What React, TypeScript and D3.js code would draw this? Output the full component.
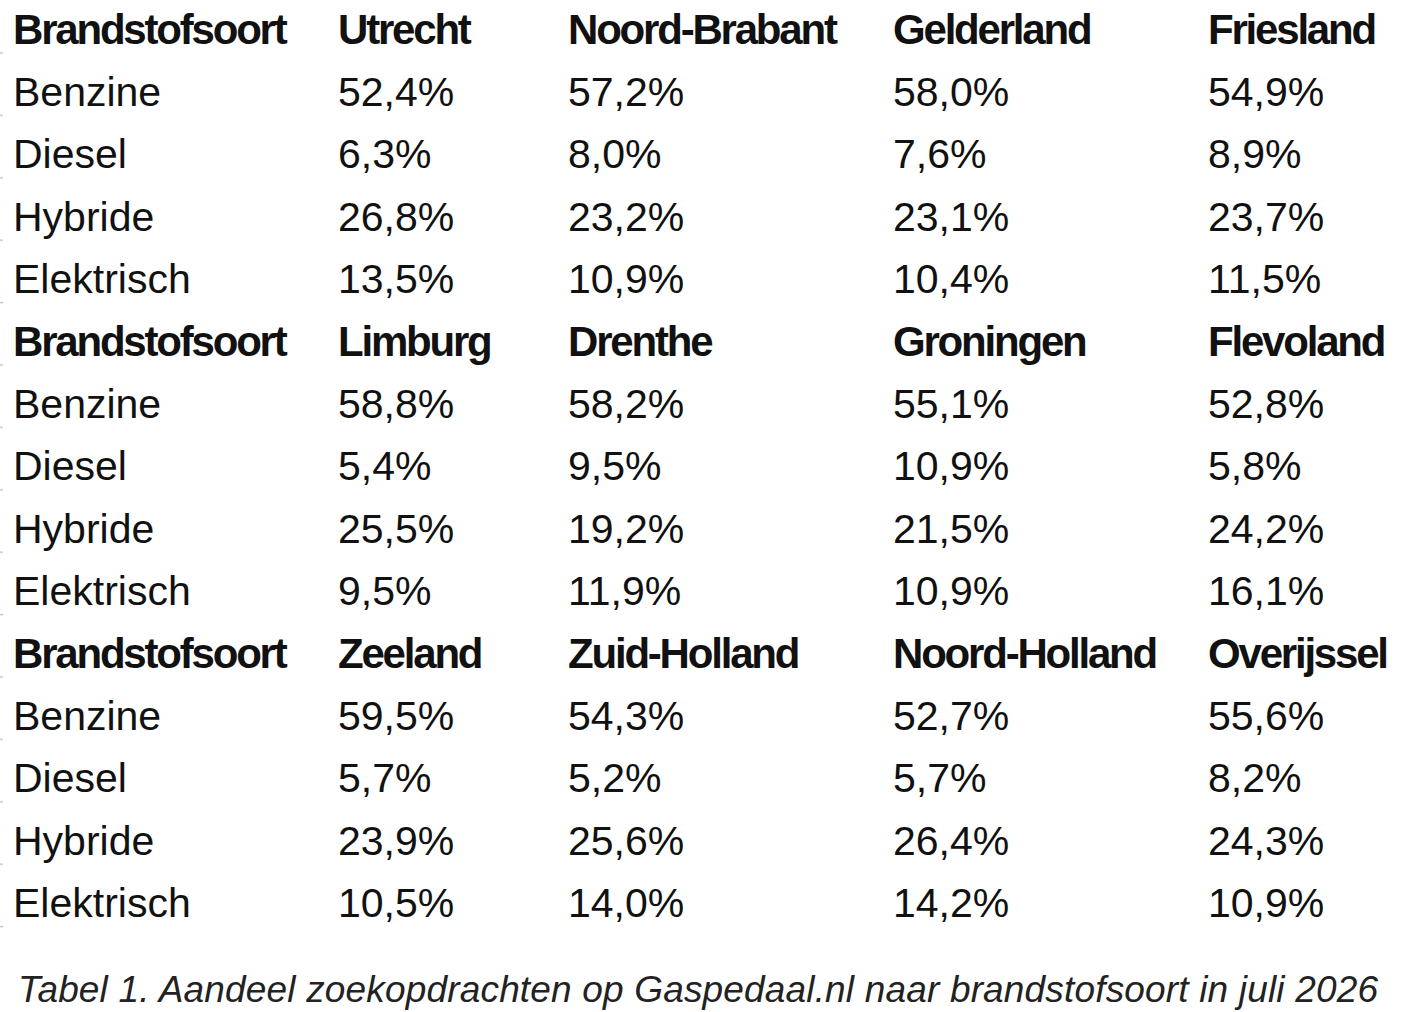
import React from "react";
import * as d3 from "d3";

const fuelTypes = ["Benzine", "Diesel", "Hybride", "Elektrisch"];
const headerLabel = "Brandstofsoort";
const provinces = [
  "Utrecht", "Noord-Brabant", "Gelderland", "Friesland",
  "Limburg", "Drenthe", "Groningen", "Flevoland",
  "Zeeland", "Zuid-Holland", "Noord-Holland", "Overijssel",
];
const benzine = [52.4, 57.2, 58.0, 54.9, 58.8, 58.2, 55.1, 52.8, 59.5, 54.3, 52.7, 55.6];
const diesel = [6.3, 8.0, 7.6, 8.9, 5.4, 9.5, 10.9, 5.8, 5.7, 5.2, 5.7, 8.2];
const hybride = [26.8, 23.2, 23.1, 23.7, 25.5, 19.2, 21.5, 24.2, 23.9, 25.6, 26.4, 24.3];
const elektrisch = [13.5, 10.9, 10.4, 11.5, 9.5, 11.9, 10.9, 16.1, 10.5, 14.0, 14.2, 10.9];
const caption = "Tabel 1. Aandeel zoekopdrachten op Gaspedaal.nl naar brandstofsoort in juli 2026";

const W = 1404;
const H = 1012;
const PER_BLOCK = 4;

const nl = d3.formatLocale({ decimal: ",", thousands: ".", grouping: [3], currency: ["€", ""] });
const fmt = (v: number) => nl.format(".1f")(v) + "%";

export default function App() {
  const series = [benzine, diesel, hybride, elektrisch];
  const nBlocks = Math.ceil(provinces.length / PER_BLOCK);
  const nRows = nBlocks * (fuelTypes.length + 1);

  const x = d3.scaleOrdinal<number, number>().domain([0, 1, 2, 3, 4]).range([13, 338, 568, 893, 1208]);
  const y = d3.scaleLinear().domain([0, nRows]).range([43.5, 43.5 + 62.4 * nRows]);

  const font = "'Liberation Sans', Arial, Helvetica, sans-serif";
  const items: React.ReactNode[] = [];

  for (let b = 0; b < nBlocks; b++) {
    const r0 = b * (fuelTypes.length + 1);
    items.push(
      <text key={`h${b}`} x={x(0)} y={y(r0)} fontWeight="bold" fontSize={42} letterSpacing={-2.2}>
        {headerLabel}
      </text>
    );
    for (let c = 0; c < PER_BLOCK; c++) {
      const p = b * PER_BLOCK + c;
      items.push(
        <text key={`p${p}`} x={x(c + 1)} y={y(r0)} fontWeight="bold" fontSize={42} letterSpacing={-2.2}>
          {provinces[p]}
        </text>
      );
    }
    fuelTypes.forEach((f, fi) => {
      const r = r0 + 1 + fi;
      items.push(
        <text key={`f${b}-${fi}`} x={x(0)} y={y(r)} fontSize={41}>
          {f}
        </text>
      );
      for (let c = 0; c < PER_BLOCK; c++) {
        const p = b * PER_BLOCK + c;
        items.push(
          <text key={`v${b}-${fi}-${c}`} x={x(c + 1)} y={y(r)} fontSize={41}>
            {fmt(series[fi][p])}
          </text>
        );
      }
    });
  }

  const marks = d3.range(0, nRows).map((i) => (
    <line key={`m${i}`} x1={0} x2={3} y1={y(i) + 9.5} y2={y(i) + 9.5} stroke="#c8c8c8" strokeWidth={1.5} />
  ));

  return (
    <svg
      width={W}
      height={H}
      style={{ position: "absolute", left: 0, top: 0, display: "block", background: "#fff" }}
      fontFamily={font}
      fill="#111"
    >
      <rect x={0} y={0} width={W} height={H} fill="#fff" />
      {marks}
      {items}
      <text x={18} y={1002} fontSize={37} fontStyle="italic" textLength={1360} lengthAdjust="spacing" fill="#222">
        {caption}
      </text>
    </svg>
  );
}
